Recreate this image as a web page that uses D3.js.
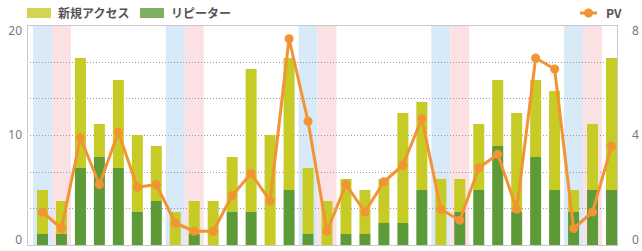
<!DOCTYPE html>
<html>
<head>
<meta charset="utf-8">
<script src="https://cdn.jsdelivr.net/npm/d3@7"></script>
<style>
  body { margin: 0; background: #fff; }
  svg { display: block; font-family: "Noto Sans CJK JP", "Noto Sans", sans-serif; }
</style>
</head>
<body>
<svg id="chart" width="642" height="251"></svg>
<script>
// 1..31, weekend flags: "sat" / "sun"
const days = d3.range(1, 32);
const saturdays = [1, 8, 15, 22, 29];
const sundays = [2, 9, 16, 23, 30];

// visitors (left axis)
const repeaters = [1, 1, 7, 8, 7, 3, 4, 0, 1, 0, 3, 3, 0, 5, 1, 0, 1, 1, 2, 2, 5, 0, 3, 5, 9, 3, 8, 5, 3, 5, 5];
const totals = [5, 4, 17, 11, 15, 10, 9, 3, 4, 4, 8, 16, 10, 17, 7, 4, 6, 5, 6, 12, 13, 6, 6, 11, 15, 12, 15, 14, 5, 11, 17];
const newAccess = totals.map((t, i) => t - repeaters[i]);

// page views (right axis)
const pv = [1.2, 0.6, 3.9, 2.2, 4.1, 2.1, 2.2, 0.8, 0.5, 0.5, 1.8, 2.6, 1.6, 7.5, 4.5, 0.5, 2.2, 1.2, 2.3, 2.9, 4.6, 1.3, 0.9, 2.8, 3.3, 1.3, 6.8, 6.4, 0.6, 1.2, 3.6];

const leftTicks = [0, 10, 20];
const rightTicks = [0, 4, 8];

const colNew = "#c6cb26";
const colRep = "#5c9b38";
const colPV = "#f29433";

const svg = d3.select("#chart");
const mLeft = 27, mRight = 617, mTop = 25, mBottom = 245;

const x = d3.scaleBand().domain(days).range([33, 621]).paddingInner(0.42).paddingOuter(0.21);
const step = x.step();
const yL = d3.scaleLinear().domain([0, 20]).range([mBottom, mTop]);
const yR = d3.scaleLinear().domain([0, 8]).range([mBottom, mTop]);

// weekend bands
const bands = svg.append("g");
bands.selectAll("rect.sat")
  .data(saturdays)
  .enter()
  .append("rect")
  .attr("class", "sat")
  .attr("x", d => x(d) + x.bandwidth() / 2 - step / 2)
  .attr("y", mTop)
  .attr("width", step)
  .attr("height", mBottom - mTop)
  .attr("fill", "#d8e9f8");
bands.selectAll("rect.sun")
  .data(sundays)
  .enter()
  .append("rect")
  .attr("class", "sun")
  .attr("x", d => x(d) + x.bandwidth() / 2 - step / 2)
  .attr("y", mTop)
  .attr("width", step)
  .attr("height", mBottom - mTop)
  .attr("fill", "#fce1e4");

// dotted grid (6 divisions)
svg.append("g")
  .selectAll("line")
  .data(d3.range(1, 6).map(i => 20 * i / 6))
  .enter()
  .append("line")
  .attr("x1", mLeft)
  .attr("x2", mRight)
  .attr("y1", d => Math.round(yL(d)) + 0.5)
  .attr("y2", d => Math.round(yL(d)) + 0.5)
  .attr("stroke", "#999")
  .attr("stroke-dasharray", "1,2");

// stacked bars
const stackData = days.map((d, i) => ({ day: d, rep: repeaters[i], nw: newAccess[i] }));
const series = d3.stack().keys(["rep", "nw"])(stackData);
const colors = { rep: colRep, nw: colNew };

svg.append("g")
  .selectAll("g")
  .data(series)
  .enter()
  .append("g")
  .attr("fill", s => colors[s.key])
  .selectAll("rect")
  .data(s => s)
  .enter()
  .append("rect")
  .attr("x", d => x(d.data.day))
  .attr("y", d => yL(d[1]))
  .attr("width", x.bandwidth())
  .attr("height", d => yL(d[0]) - yL(d[1]));

// frame
svg.append("rect")
  .attr("x", mLeft + 0.5)
  .attr("y", mTop + 0.5)
  .attr("width", mRight - mLeft)
  .attr("height", mBottom - mTop)
  .attr("fill", "none")
  .attr("stroke", "#c8c8c8");

// PV line
const line = d3.line()
  .x((d, i) => x(days[i]) + x.bandwidth() / 2)
  .y(d => yR(d));
svg.append("path")
  .datum(pv)
  .attr("d", line)
  .attr("fill", "none")
  .attr("stroke", colPV)
  .attr("stroke-width", 3)
  .attr("stroke-linejoin", "round");
svg.append("g")
  .selectAll("circle")
  .data(pv)
  .enter()
  .append("circle")
  .attr("cx", (d, i) => x(days[i]) + x.bandwidth() / 2)
  .attr("cy", d => yR(d))
  .attr("r", 4.5)
  .attr("fill", colPV);

// axes
const axL = svg.append("g")
  .attr("transform", `translate(${mLeft},0)`)
  .call(d3.axisLeft(yL).tickValues(leftTicks).tickSize(0).tickPadding(5));
const axR = svg.append("g")
  .attr("transform", `translate(${mRight},0)`)
  .call(d3.axisRight(yR).tickValues(rightTicks).tickSize(0).tickPadding(15));
[axL, axR].forEach(ax => {
  ax.select(".domain").remove();
  ax.selectAll("text")
    .attr("fill", "#777")
    .attr("font-size", 12)
    .attr("font-family", "'Noto Sans', sans-serif")
    .attr("dy", (d, i) => i === 0 ? "-0.1em" : i === 2 ? "0.75em" : "0.32em");
});

// legend
const legend = svg.append("g").attr("font-size", 12).attr("font-weight", "bold").attr("fill", "#555");
const legItems = [
  { label: "新規アクセス", color: colNew, x: 27 },
  { label: "リピーター", color: colRep, x: 140 }
];
const li = legend.selectAll("g")
  .data(legItems)
  .enter()
  .append("g")
  .attr("transform", d => `translate(${d.x},0)`);
li.append("rect")
  .attr("y", 8)
  .attr("width", 24)
  .attr("height", 10)
  .attr("fill", d => d.color)
  .attr("opacity", 0.8);
li.append("text")
  .attr("x", 31)
  .attr("y", 18)
  .text(d => d.label);

const pvLeg = legend.append("g").attr("transform", "translate(580,0)");
pvLeg.append("line")
  .attr("x1", 0).attr("x2", 17)
  .attr("y1", 13).attr("y2", 13)
  .attr("stroke", colPV)
  .attr("stroke-width", 3);
pvLeg.append("circle").attr("cx", 8.5).attr("cy", 13).attr("r", 4.5).attr("fill", colPV);
pvLeg.append("text").attr("x", 26).attr("y", 18).text("PV");
</script>
</body>
</html>
